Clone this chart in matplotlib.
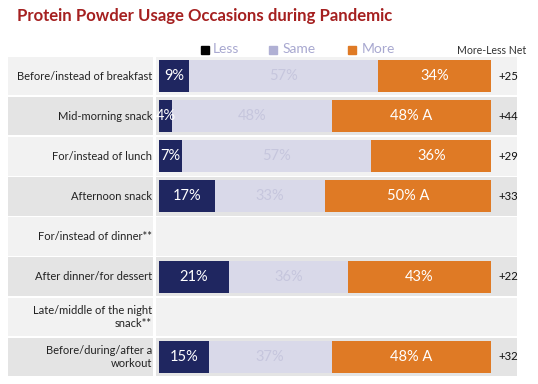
import numpy as np
import matplotlib
matplotlib.use("Agg")
import matplotlib.pyplot as plt
from matplotlib.patches import Rectangle

plt.rcParams['font.family'] = ['Lato', 'DejaVu Sans']

occasions = ["Before/instead of breakfast", "Mid-morning snack", "For/instead of lunch",
             "Afternoon snack", "For/instead of dinner**", "After dinner/for dessert",
             "Late/middle of the night\nsnack**", "Before/during/after a\nworkout"]
less = [9, 4, 7, 17, np.nan, 21, np.nan, 15]
same = [57, 48, 57, 33, np.nan, 36, np.nan, 37]
more = [34, 48, 36, 50, np.nan, 43, np.nan, 48]
sig = ["", " A", "", " A", "", "", "", " A"]
net = ["+25", "+44", "+29", "+33", "", "+22", "", "+32"]

c_less = "#1f2660"
c_same = "#d9d9e9"
c_more = "#df7a25"

W, H = 538, 384
fig = plt.figure(figsize=(W / 100, H / 100), dpi=100)
ax = fig.add_axes([0, 0, 1, 1])

# pixel -> data helpers (bar 0% at px 159, 100% at px 491; rows 40.14 px apart from px 76)
x0, xs = 159, 3.32
y0, ys = 76, 40.14
px_x = lambda p: (p - x0) / xs
px_y = lambda p: (p - y0) / ys
ax.set_xlim(px_x(0), px_x(W))
ax.set_ylim(px_y(H), px_y(0))
ax.axis("off")

rows = np.arange(len(occasions))

# row backgrounds
for i in rows:
    bg = "#f2f2f2" if i % 2 == 0 else "#e4e4e4"
    ax.add_patch(Rectangle((px_x(8), i - 0.48), px_x(153) - px_x(8), 0.96, color=bg, lw=0, zorder=0))
    ax.add_patch(Rectangle((px_x(156), i - 0.48), px_x(517) - px_x(156), 0.96, color=bg, lw=0, zorder=0))

less_a = np.array(less)
same_a = np.array(same)
more_a = np.array(more)
ok = ~np.isnan(less_a)
ax.barh(rows[ok], less_a[ok], height=0.8, color=c_less, zorder=2)
ax.barh(rows[ok], same_a[ok], left=less_a[ok], height=0.8, color=c_same, zorder=2)
ax.barh(rows[ok], more_a[ok], left=less_a[ok] + same_a[ok], height=0.8, color=c_more, zorder=2)

for i in rows:
    ax.text(px_x(152), i, occasions[i], ha="right", va="center", fontsize=8.0,
            color="#222222", linespacing=1.25, zorder=3)
    if not ok[i]:
        continue
    l, s, m = less[i], same[i], more[i]
    ax.text(l / 2, i, f"{l}%", ha="center", va="center", fontsize=10.5, color="white", zorder=3)
    ax.text(l + s / 2, i, f"{s}%", ha="center", va="center", fontsize=10.5, color="#c6c6dd", zorder=3)
    ax.text(l + s + m / 2, i, f"{m}%{sig[i]}", ha="center", va="center", fontsize=10.5,
            color="white", zorder=3)
    ax.text(px_x(498), i, net[i], ha="left", va="center", fontsize=8.2, color="#111111", zorder=3)

ax.text(px_x(492), px_y(50), "More-Less Net", ha="center", va="center", fontsize=7.6, color="#333333")

# legend
leg = [("Less", "#000000", 204.5, 213), ("Same", "#b0b0d4", 273, 283), ("More", c_more, 352, 362)]
for name, col, sx, tx in leg:
    ax.plot(px_x(sx), px_y(50), marker="s", markersize=6, color=col, lw=0)
    ax.text(px_x(tx), px_y(49), name, ha="left", va="center", fontsize=10, color="#a8a8d0")

fig.text(17 / W, 1 - 20.7 / H, "Protein Powder Usage Occasions during Pandemic", ha="left",
         va="baseline", fontsize=12.1, fontweight="bold", color="#a52020")

fig.savefig("out.png", dpi=100)
